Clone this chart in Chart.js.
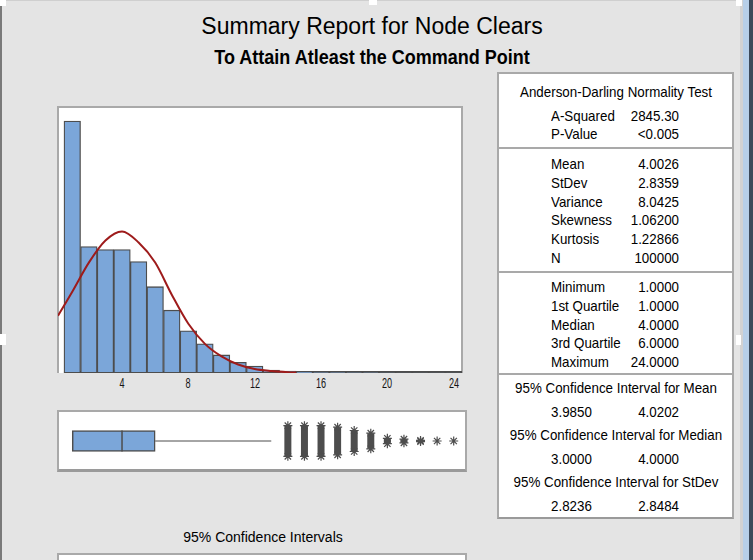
<!DOCTYPE html>
<html>
<head>
<meta charset="utf-8">
<script src="https://cdn.jsdelivr.net/npm/chart.js@4.4.1/dist/chart.umd.min.js"></script>
<style>
  html, body { margin: 0; padding: 0; }
  body {
    width: 753px; height: 560px; position: relative; overflow: hidden;
    background: #e4e4e4; color: #000;
    font-family: 'Liberation Sans', Arial, sans-serif;
  }
  .panel { position: absolute; background: #fff; box-sizing: border-box; border: 2px solid #a9a9a9; }
  .txt { position: absolute; white-space: nowrap; line-height: 1; }
  canvas { position: absolute; }
  .deco { position: absolute; }
</style>
</head>
<body>
  <!-- window chrome bits from the screenshot -->
  <div class="deco" style="left:0;top:0;width:2px;height:560px;background:#7a7a7a"></div>
  <div class="deco" style="left:0;top:0;width:741px;height:1px;background:#cfcfcf"></div>
  <div class="deco" style="left:740px;top:0;width:3px;height:560px;background:#d2d2d2"></div>
  <div class="deco" style="left:743px;top:0;width:6px;height:560px;background:#b7cfe8"></div>
  <div class="deco" style="left:749px;top:0;width:4px;height:560px;background:#3c4a5a"></div>
  <div class="deco" style="left:0;top:0;width:6px;height:6px;background:#fff"></div>
  <div class="deco" style="left:369px;top:0;width:8px;height:5px;background:#fff"></div>
  <div class="deco" style="left:736px;top:0;width:6px;height:6px;background:#fff"></div>
  <div class="deco" style="left:0;top:334px;width:6px;height:11px;background:#fff"></div>
  <div class="deco" style="left:736px;top:335px;width:5px;height:10px;background:#fff"></div>

  <!-- panels -->
  <div class="panel" style="left:57px;top:106px;width:406px;height:267px;border-width:2px 2px 0 2px"></div>
  <div class="panel" style="left:57px;top:410px;width:410px;height:62px;border-bottom-color:#9a9a9a;border-bottom-width:3px"></div>
  <div class="panel" style="left:497px;top:72px;width:237px;height:447px;border-bottom-color:#9a9a9a"></div>
  <div class="panel" style="left:57px;top:553px;width:410px;height:20px"></div>
  <div class="deco" style="left:499px;top:147px;width:233px;height:2px;background:#a9a9a9"></div>
  <div class="deco" style="left:499px;top:271px;width:233px;height:2px;background:#a9a9a9"></div>
  <div class="deco" style="left:499px;top:373px;width:233px;height:2px;background:#a9a9a9"></div>

  <canvas id="hist" width="404" height="266" style="left:58px;top:107px"></canvas>
  <canvas id="box" width="404" height="60" style="left:58px;top:411px"></canvas>

<script>
// Summary report: histogram with fitted normal, boxplot and stats table

// histogram bins (integer values, width 1)
const binCenters = [1, 2, 3, 4, 5, 6, 7, 8, 9, 10, 11, 12, 13, 14, 15, 16, 17, 18, 19, 20, 21, 22, 23, 24];
const binCounts = [25100, 12600, 12300, 12300, 11100, 8600, 6260, 4200, 2900, 1800, 1070, 700, 300, 180, 90, 50, 30, 20, 10, 6, 4, 2, 1, 1];

// fitted normal curve
const curveX = [0.14, 1, 2, 3, 4, 5, 6, 7, 8, 9, 10, 11, 12, 13, 14, 14.5];
const curveY = [5700, 8100, 11000, 13200, 14100, 13000, 11000, 7800, 4900, 2900, 1650, 850, 400, 200, 80, 40];

const xTicks = [4, 8, 12, 16, 20, 24];

// boxplot
const q1 = 1, median = 4, q3 = 6, whiskerHigh = 13;
const outlierValues = [14, 15, 16, 17, 18, 19, 20, 21, 22, 23, 24];
const outlierSpread = [0.51, 0.51, 0.51, 0.46, 0.35, 0.26, 0.09, 0.06, 0.02, 0, 0];

// stats table
const adLabels = ['A-Squared', 'P-Value'];
const adValues = ['2845.30', '<0.005'];
const momentLabels = ['Mean', 'StDev', 'Variance', 'Skewness', 'Kurtosis', 'N'];
const momentValues = ['4.0026', '2.8359', '8.0425', '1.06200', '1.22866', '100000'];
const quantLabels = ['Minimum', '1st Quartile', 'Median', '3rd Quartile', 'Maximum'];
const quantValues = ['1.0000', '1.0000', '4.0000', '6.0000', '24.0000'];
const ciTitles = ['95% Confidence Interval for Mean', '95% Confidence Interval for Median', '95% Confidence Interval for StDev'];
const ciLow = ['3.9850', '3.0000', '2.8236'];
const ciHigh = ['4.0202', '4.0000', '2.8484'];

const X_MIN = 0.14, X_MAX = 24.5;
const BAR_FILL = '#7ba6d9', EDGE = '#4d4d4d', CURVE = '#9e1b1b';

// text placed by baseline, optionally squeezed horizontally
function put(text, x, baseline, size, align, opts) {
  opts = opts || {};
  const sx = opts.sx || 1;
  const d = document.createElement('div');
  d.className = 'txt';
  d.textContent = text;
  d.style.fontSize = size + 'px';
  if (opts.bold) d.style.fontWeight = 'bold';
  if (opts.color) d.style.color = opts.color;
  d.style.top = (baseline - 0.847 * size) + 'px';
  d.style.left = x + 'px';
  if (align === 'center') {
    d.style.transformOrigin = '50% 0';
    d.style.transform = 'translateX(-50%) scaleX(' + sx + ')';
  } else if (align === 'right') {
    d.style.transformOrigin = '100% 0';
    d.style.transform = 'translateX(-100%) scaleX(' + sx + ')';
  } else {
    d.style.transformOrigin = '0 0';
    d.style.transform = 'scaleX(' + sx + ')';
  }
  document.body.appendChild(d);
}

put('Summary Report for Node Clears', 372, 34.3, 23, 'center');
put('To Attain Atleast the Command Point', 372, 63.3, 21, 'center', { bold: true, sx: 0.857 });
put('95% Confidence Intervals', 263, 542.3, 14, 'center');

const TS = 15, SX = 0.89, LX = 551, VX = 679, CX = 616;
const T = { sx: SX };
put('Anderson-Darling Normality Test', CX, 96.7, TS, 'center', T);
adLabels.forEach((l, i) => {
  put(l, LX, 121 + i * 18, TS, 'left', T);
  put(adValues[i], VX, 121 + i * 18, TS, 'right', T);
});
momentLabels.forEach((l, i) => {
  put(l, LX, 168.5 + i * 18.9, TS, 'left', T);
  put(momentValues[i], VX, 168.5 + i * 18.9, TS, 'right', T);
});
quantLabels.forEach((l, i) => {
  put(l, LX, 292 + i * 18.7, TS, 'left', T);
  put(quantValues[i], VX, 292 + i * 18.7, TS, 'right', T);
});
ciTitles.forEach((t, i) => {
  const b = 392.7 + i * 47;
  put(t, CX, b, TS, 'center', T);
  put(ciLow[i], LX, b + 24, TS, 'left', T);
  put(ciHigh[i], VX, b + 24, TS, 'right', T);
});

// baseline under the bars
const baselinePlugin = {
  id: 'baseline',
  beforeDatasetsDraw(chart) {
    const xs = chart.scales.x, ys = chart.scales.y, c = chart.ctx;
    c.save();
    c.strokeStyle = EDGE;
    c.lineWidth = 2;
    c.beginPath();
    c.moveTo(xs.getPixelForValue(binCenters[0] - 0.5), ys.getPixelForValue(0) - 1);
    c.lineTo(xs.getPixelForValue(binCenters[binCenters.length - 1] + 0.5), ys.getPixelForValue(0) - 1);
    c.stroke();
    c.restore();
  }
};

const hist = new Chart(document.getElementById('hist'), {
  type: 'bar',
  data: {
    datasets: [
      {
        type: 'line',
        data: curveX.map((x, i) => ({ x: x, y: curveY[i] })),
        borderColor: CURVE,
        borderWidth: 2,
        pointRadius: 0,
        cubicInterpolationMode: 'monotone',
        order: 0
      },
      {
        type: 'bar',
        data: binCenters.map((x, i) => ({ x: x, y: binCounts[i] })),
        backgroundColor: BAR_FILL,
        borderColor: EDGE,
        borderWidth: 1.3,
        borderSkipped: false,
        barPercentage: 1,
        categoryPercentage: 1,
        grouped: false,
        order: 1
      }
    ]
  },
  options: {
    responsive: false,
    animation: false,
    layout: { padding: 0, autoPadding: false },
    plugins: { legend: { display: false }, tooltip: { enabled: false } },
    scales: {
      x: { type: 'linear', display: false, min: X_MIN, max: X_MAX, offset: false },
      y: { display: false, min: 0, max: 26500 }
    }
  },
  plugins: [baselinePlugin]
});

// x tick labels, placed from the chart's own x scale
const histLeft = 58;
xTicks.forEach(v => {
  put(String(v), histLeft + hist.scales.x.getPixelForValue(v), 388.3, 14, 'center', { sx: 0.65, color: '#141414' });
});

// outlier stacks as thick vertical segments, broken by gaps
const outlierPts = [];
outlierValues.forEach((v, i) => {
  const s = outlierSpread[i];
  if (s > 0) { outlierPts.push({ x: v, y: -s }, { x: v, y: s }); }
  else { outlierPts.push({ x: v, y: 0 }); }
  outlierPts.push({ x: v, y: null });
});

new Chart(document.getElementById('box'), {
  type: 'scatter',
  data: {
    datasets: [
      {
        type: 'bar', indexAxis: 'y',
        data: [{ x: [q1, q3], y: 0 }],
        backgroundColor: BAR_FILL, borderColor: EDGE, borderWidth: 1.5, borderSkipped: false,
        barThickness: 21, order: 3
      },
      {
        type: 'line',
        data: [{ x: median, y: -0.35 }, { x: median, y: 0.35 }],
        borderColor: EDGE, borderWidth: 1.5, pointRadius: 0, order: 1
      },
      {
        type: 'line',
        data: [{ x: q3, y: 0 }, { x: whiskerHigh, y: 0 }],
        borderColor: EDGE, borderWidth: 1, pointRadius: 0, order: 2
      },
      {
        type: 'line',
        data: outlierPts,
        spanGaps: false,
        borderColor: EDGE, borderWidth: 7, borderCapStyle: 'butt',
        pointStyle: 'star', pointRadius: 4.5, pointBorderWidth: 1.2,
        pointBorderColor: EDGE, pointBackgroundColor: EDGE,
        order: 0
      }
    ]
  },
  options: {
    responsive: false,
    animation: false,
    layout: { padding: 0, autoPadding: false },
    plugins: { legend: { display: false }, tooltip: { enabled: false } },
    scales: {
      x: { type: 'linear', display: false, min: X_MIN, max: X_MAX, offset: false },
      y: { type: 'linear', display: false, min: -1, max: 1, offset: false }
    }
  }
});
</script>
</body>
</html>
